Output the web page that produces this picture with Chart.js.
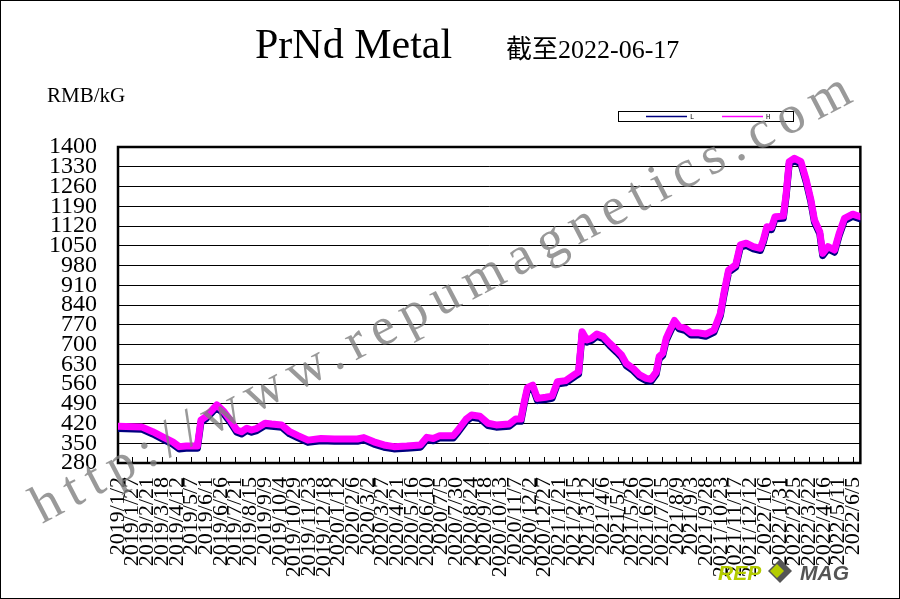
<!DOCTYPE html>
<html>
<head>
<meta charset="utf-8">
<title>PrNd Metal</title>
<script src="https://cdn.jsdelivr.net/npm/chart.js@4"></script>
<style>
html, body { margin: 0; padding: 0; background: #fff; }
canvas { display: block; }
</style>
</head>
<body>
<canvas id="prndChart" width="900" height="599"></canvas>
<script>
// tick labels, one every 25 days starting 2019/1/2
const tickLabels = [
    "2019/1/2", "2019/1/27", "2019/2/21", "2019/3/18", "2019/4/12", "2019/5/7", "2019/6/1", "2019/6/26",
    "2019/7/21", "2019/8/15", "2019/9/9", "2019/10/4", "2019/10/29", "2019/11/23", "2019/12/18",
    "2020/1/12", "2020/2/6", "2020/3/2", "2020/3/27", "2020/4/21", "2020/5/16", "2020/6/10", "2020/7/5",
    "2020/7/30", "2020/8/24", "2020/9/18", "2020/10/13", "2020/11/7", "2020/12/2", "2020/12/27",
    "2021/1/21", "2021/2/15", "2021/3/12", "2021/4/6", "2021/5/1", "2021/5/26", "2021/6/20", "2021/7/15",
    "2021/8/9", "2021/9/3", "2021/9/28", "2021/10/23", "2021/11/17", "2021/12/12",
    "2022/1/6", "2022/1/31", "2022/2/25", "2022/3/22", "2022/4/16", "2022/5/11", "2022/6/5"
];
const lastDay = 1262; // 2022/6/17, days after 2019/1/2

// days after 2019/1/2
const days = [
    0, 40, 59, 76, 93, 104, 116, 135, 141, 149, 160, 168, 180, 191, 202, 210, 219, 227, 236, 250,
    261, 278, 292, 306, 323, 345, 368, 407, 418, 435, 452, 469, 491, 514, 525, 536, 547, 570, 578, 592,
    601, 615, 629, 643, 665, 676, 685, 690, 696, 705, 713, 727, 738, 747, 761, 777, 783, 789, 797, 805,
    814, 825, 836, 848, 856, 864, 876, 887, 898, 906, 915, 920, 926, 932, 937, 946, 954, 965, 974, 985,
    999, 1013, 1024, 1030, 1038, 1050, 1058, 1068, 1080, 1092, 1097, 1103, 1111, 1117, 1131, 1136, 1141, 1150, 1161, 1170,
    1178, 1184, 1193, 1198, 1207, 1218, 1226, 1235, 1249, 1262
];
const highValues = [
    410, 408, 391, 373, 355, 338, 340, 340, 432, 444, 468, 486, 462, 432, 397, 391, 403, 397, 403, 421,
    418, 415, 391, 377, 361, 367, 365, 365, 370, 355, 344, 338, 340, 344, 371, 367, 377, 377, 397, 436,
    450, 446, 421, 415, 418, 436, 436, 491, 547, 556, 509, 513, 517, 568, 572, 595, 603, 745, 716, 722,
    737, 728, 704, 680, 663, 633, 615, 592, 580, 577, 603, 657, 669, 722, 745, 785, 763, 757, 742, 742,
    737, 751, 810, 881, 964, 982, 1053, 1059, 1047, 1041, 1070, 1117, 1115, 1153, 1155, 1236, 1348, 1360, 1348, 1283,
    1212, 1141, 1100, 1023, 1047, 1035, 1094, 1147, 1162, 1153
];
const lowValues = [
    402, 400, 383, 365, 347, 330, 332, 332, 424, 436, 460, 478, 454, 424, 389, 383, 395, 389, 395, 413,
    410, 407, 383, 369, 353, 359, 357, 357, 362, 347, 336, 330, 332, 336, 363, 359, 369, 369, 389, 428,
    442, 438, 413, 407, 410, 428, 428, 483, 539, 548, 501, 505, 509, 560, 564, 587, 595, 737, 708, 714,
    729, 720, 696, 672, 655, 625, 607, 584, 572, 569, 595, 649, 661, 714, 737, 777, 755, 749, 734, 734,
    729, 743, 802, 873, 956, 974, 1045, 1051, 1039, 1033, 1062, 1109, 1107, 1145, 1147, 1228, 1340, 1352, 1340, 1275,
    1204, 1133, 1092, 1015, 1039, 1027, 1086, 1139, 1154, 1145
];
const yMin = 280, yMax = 1400, yStep = 70;

const toPoints = (vals) => days.map((d, i) => ({ x: d, y: vals[i] }));

const decor = {
    id: "decor",
    beforeDatasetsDraw(chart) {
        const { ctx, chartArea: a } = chart;
        ctx.save();
        ctx.strokeStyle = "#000";
        ctx.lineWidth = 2.5;
        ctx.strokeRect(a.left, a.top, a.right - a.left, a.bottom - a.top);
        ctx.restore();
    },
    afterDraw(chart) {
        const ctx = chart.ctx;
        ctx.save();
        ctx.fillStyle = "#000";
        ctx.textBaseline = "alphabetic";

        // titles
        ctx.font = "42px 'Liberation Serif'";
        ctx.fillText("PrNd Metal", 255, 58);
        ctx.font = "26px 'Liberation Serif', 'Noto Sans CJK SC'";
        ctx.fillText("截至2022-06-17", 506, 58);
        ctx.font = "21px 'Liberation Serif'";
        ctx.fillText("RMB/kG", 47, 102);

        // legend
        ctx.lineWidth = 1;
        ctx.strokeStyle = "#000";
        ctx.strokeRect(618.5, 111.5, 175, 10);
        ctx.font = "7px 'Liberation Mono'";
        const legendX = [646, 722];
        chart.data.datasets.forEach((ds, i) => {
            ctx.strokeStyle = ds.borderColor;
            ctx.lineWidth = 1.5;
            ctx.beginPath();
            ctx.moveTo(legendX[i], 116.5);
            ctx.lineTo(legendX[i] + 41, 116.5);
            ctx.stroke();
            ctx.fillStyle = "#000";
            ctx.fillText(ds.label, legendX[i] + 44, 119);
        });

        // logo
        ctx.font = "italic bold 21px 'Liberation Sans'";
        ctx.fillStyle = "#b4cc00";
        ctx.fillText("REP", 718, 580);
        ctx.fillStyle = "#555";
        ctx.fillText("MAG", 800, 580);
        ctx.beginPath();
        ctx.moveTo(780, 559); ctx.lineTo(792, 571); ctx.lineTo(780, 583); ctx.lineTo(768, 571);
        ctx.closePath();
        ctx.fill();
        ctx.fillStyle = "#b4cc00";
        ctx.beginPath();
        ctx.moveTo(777, 564); ctx.lineTo(784, 571); ctx.lineTo(777, 578); ctx.lineTo(770, 571);
        ctx.closePath();
        ctx.fill();

        // watermark
        const mark = "http://www.repumagnetics.com";
        ctx.font = "54px 'Liberation Serif'";
        const natural = ctx.measureText(mark).width;
        ctx.letterSpacing = ((925 - natural) / mark.length) + "px";
        ctx.translate(42, 524);
        ctx.rotate(-27.5 * Math.PI / 180);
        ctx.fillStyle = "rgba(128,128,128,0.8)";
        ctx.fillText(mark, 0, 0);
        ctx.restore();

        // outer frame
        ctx.save();
        ctx.strokeStyle = "#000";
        ctx.lineWidth = 1;
        ctx.strokeRect(0.5, 0.5, 899, 598);
        ctx.restore();
    }
};

const ctx = document.getElementById("prndChart").getContext("2d");
new Chart(ctx, {
    type: "line",
    data: {
        datasets: [
            {
                label: "L",
                data: toPoints(lowValues),
                borderColor: "#000080",
                borderWidth: 7,
                pointRadius: 0,
                borderJoinStyle: "round",
                borderCapStyle: "round",
                order: 1
            },
            {
                label: "H",
                data: toPoints(highValues),
                borderColor: "#ff00ff",
                borderWidth: 7,
                pointRadius: 0,
                borderJoinStyle: "round",
                borderCapStyle: "round",
                order: 0
            }
        ]
    },
    options: {
        responsive: false,
        animation: false,
        layout: { padding: { top: 147, right: 32, left: 0, bottom: 0 } },
        plugins: { legend: { display: false }, tooltip: { enabled: false } },
        scales: {
            x: {
                type: "linear",
                min: 0,
                max: lastDay,
                afterFit(scale) { scale.height = 136; },
                border: { display: false },
                grid: { display: true, drawOnChartArea: false, drawTicks: true, tickLength: -6, color: "#000" },
                ticks: {
                    stepSize: 25,
                    includeBounds: false,
                    autoSkip: false,
                    minRotation: 90,
                    maxRotation: 90,
                    padding: 20,
                    color: "#000",
                    font: { family: "'Liberation Serif'", size: 22 },
                    callback: (v) => tickLabels[Math.round(v / 25)] ?? ""
                }
            },
            y: {
                min: yMin,
                max: yMax,
                afterFit(scale) { scale.width = 118; },
                border: { display: false },
                grid: { color: "#000", drawTicks: false },
                ticks: {
                    stepSize: yStep,
                    autoSkip: false,
                    padding: 21,
                    color: "#000",
                    font: { family: "'Liberation Serif'", size: 24 },
                    callback: (v) => String(v)
                }
            }
        }
    },
    plugins: [decor]
});
</script>
</body>
</html>
